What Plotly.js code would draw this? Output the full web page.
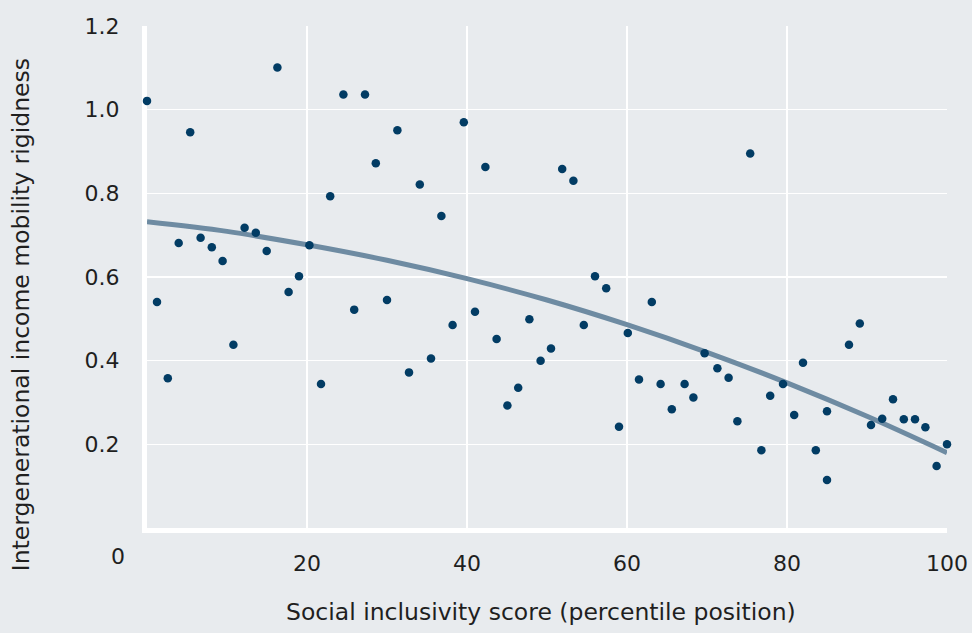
<!DOCTYPE html>
<html>
<head>
<meta charset="utf-8">
<script src="https://cdn.plot.ly/plotly-3.0.1.min.js"></script>
<style>
html,body{margin:0;padding:0;background:#e8ebee;}
#chart{width:972px;height:633px;}
</style>
</head>
<body>
<div id="chart"></div>
<script>
// Scatter data: social inclusivity percentile vs. income mobility rigidness
var inclusivity = [0.0, 1.25, 2.6, 3.96, 5.4, 6.7, 8.1, 9.45, 10.8, 12.2, 13.6, 14.96, 16.3, 17.7, 19.0, 20.3,
  21.75, 22.9, 24.55, 25.9, 27.25, 28.6, 30.0, 31.3, 32.75, 34.1, 35.5, 36.8, 38.2, 39.6, 41.0, 42.3,
  43.7, 45.05, 46.4, 47.8, 49.2, 50.5, 51.9, 53.3, 54.6, 56.0, 57.4, 59.0, 60.1, 61.5, 63.1, 64.2,
  65.6, 67.2, 68.3, 69.7, 71.3, 72.7, 73.8, 75.4, 76.8, 77.9, 79.5, 80.9, 82.0, 83.6, 85.0, 85.0,
  87.75, 89.1, 90.5, 91.9, 93.25, 94.6, 96.0, 97.3, 98.7, 100.0];
var rigidness = [1.021, 0.540, 0.358, 0.681, 0.946, 0.694, 0.671, 0.638, 0.438, 0.718, 0.706, 0.662, 1.101, 0.564, 0.602, 0.676,
  0.344, 0.793, 1.036, 0.522, 1.036, 0.872, 0.545, 0.951, 0.372, 0.821, 0.405, 0.746, 0.485, 0.970, 0.517, 0.863,
  0.452, 0.293, 0.335, 0.499, 0.400, 0.429, 0.858, 0.830, 0.485, 0.602, 0.573, 0.242, 0.466, 0.355, 0.540, 0.344,
  0.284, 0.344, 0.312, 0.418, 0.382, 0.359, 0.255, 0.895, 0.186, 0.316, 0.344, 0.270, 0.395, 0.186, 0.279, 0.115,
  0.438, 0.489, 0.246, 0.261, 0.308, 0.260, 0.260, 0.241, 0.148, 0.200];

// Fitted trend curve
var trendX = [0, 10, 20, 30, 40, 50, 60, 70, 80, 90, 100];
var trendY = [0.732, 0.709, 0.677, 0.640, 0.596, 0.545, 0.486, 0.420, 0.347, 0.267, 0.180];

var xTicks = [20, 40, 60, 80, 100];
var yTicks = [0.2, 0.4, 0.6, 0.8, 1.0, 1.2];
var yTickText = ['0.2', '0.4', '0.6', '0.8', '1.0', '1.2'];

var xTitle = 'Social inclusivity score (percentile position)';
var yTitle = 'Intergenerational income mobility rigidness';

var FONT = '"DejaVu Sans", sans-serif';
var TXT = '#1f1f1f';
var FS = 22;
var FT = 23.5;

var traces = [
  {x: trendX, y: trendY, type: 'scatter', mode: 'lines',
   line: {color: '#6e8ba2', width: 5, shape: 'spline'}, hoverinfo: 'skip', cliponaxis: false},
  {x: inclusivity, y: rigidness, type: 'scatter', mode: 'markers',
   marker: {color: '#023c64', size: 8.5}, cliponaxis: false}
];

var layout = {
  width: 972, height: 633,
  paper_bgcolor: '#e8ebee', plot_bgcolor: '#e8ebee',
  margin: {l: 147, r: 25, t: 26, b: 105},
  showlegend: false,
  font: {family: FONT, color: TXT, size: FS},
  xaxis: {range: [0, 100], tickvals: xTicks, ticktext: xTicks.map(String),
    showgrid: true, gridcolor: '#ffffff', gridwidth: 1.5, zeroline: false,
    showline: true, linecolor: '#ffffff', linewidth: 5, layer: 'below traces',
    ticks: '', ticklabelstandoff: 12, tickfont: {family: FONT, size: FS, color: TXT}},
  yaxis: {range: [0, 1.2], tickvals: yTicks, ticktext: yTickText,
    showgrid: true, gridcolor: '#ffffff', gridwidth: 1.5, zeroline: false,
    showline: true, linecolor: '#ffffff', linewidth: 5, layer: 'below traces',
    ticks: '', ticklabelstandoff: 18, tickfont: {family: FONT, size: FS, color: TXT}},
  annotations: [
    {text: '0', xref: 'paper', yref: 'paper', x: (118 - 147) / 800, y: (527.6 - 556) / 501.6,
     showarrow: false, xanchor: 'center', yanchor: 'middle', font: {family: FONT, size: FS, color: TXT}},
    {text: xTitle, xref: 'paper', yref: 'paper', x: (541 - 147) / 800, y: (527.6 - 612) / 501.6,
     showarrow: false, xanchor: 'center', yanchor: 'middle', font: {family: FONT, size: FT, color: TXT}},
    {text: yTitle, xref: 'paper', yref: 'paper', x: (21 - 147) / 800, y: (527.6 - 315) / 501.6,
     textangle: -90, showarrow: false, xanchor: 'center', yanchor: 'middle', font: {family: FONT, size: FT, color: TXT}}
  ]
};

Plotly.newPlot('chart', traces, layout, {displayModeBar: false, staticPlot: true});
</script>
</body>
</html>
